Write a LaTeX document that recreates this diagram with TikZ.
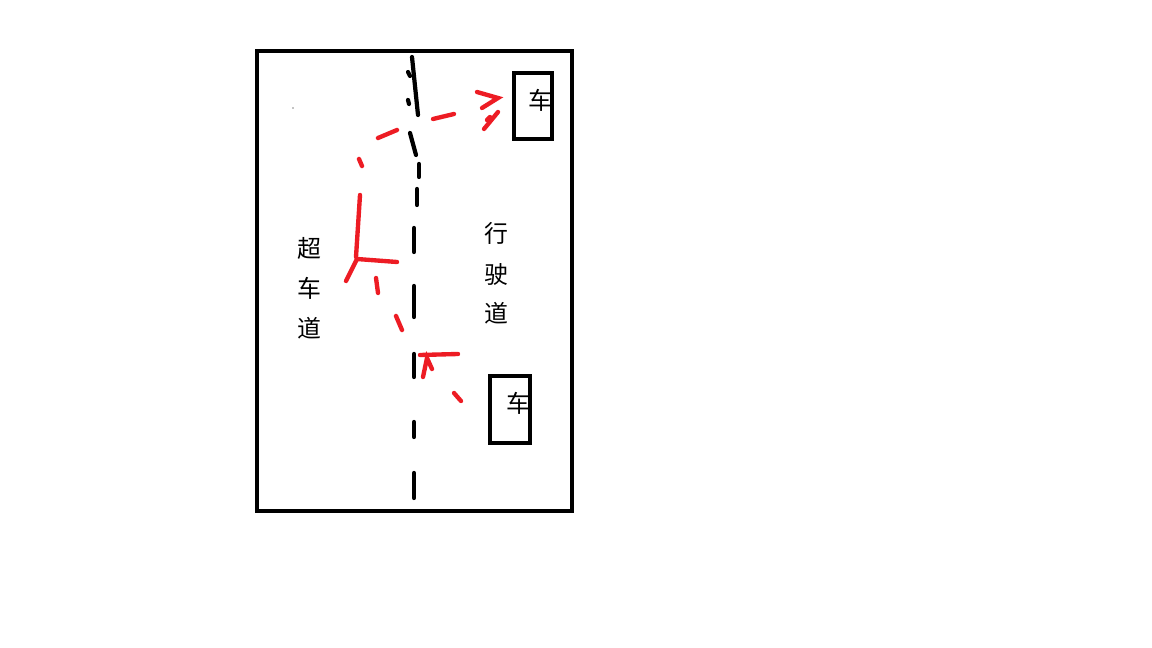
\documentclass[tikz,border=0pt]{standalone}
\usepackage{fontspec}
\newfontfamily\cjk{Noto Sans CJK SC}
\usepackage{tikz}
\definecolor{paintred}{HTML}{ED1C24}

\begin{document}
\begin{tikzpicture}[x=0.025cm,y=-0.025cm,
 every node/.style={font=\cjk\fontsize{17}{17}\selectfont,inner sep=0pt},
 frame/.style={draw,line width=3.1pt},
 lane/.style={draw,line width=3pt,line cap=round},
 redline/.style={draw=paintred,line width=3.1pt,line cap=round}]
 \useasboundingbox (0,0) rectangle (1152,648);
 % road
 \draw[frame] (257,51) rectangle (572,511);
 \draw[lane] (412,57)--(418,115);
 \draw[lane] (408,72)--(410,76);
 \draw[lane] (408,100)--(409,104);
 \draw[lane] (410,133)--(416,155);
 \draw[lane] (419,164)--(419,177);
 \draw[lane] (417,189)--(417,205);
 \foreach \ya/\yb in {228/252,286/317,354/377,422/437,473/498}
  \draw[lane] (414,\ya)--(414,\yb);
 \fill (293,108) circle (0.6);
 % cars
 \draw[frame] (514,73) rectangle (552,139);
 \draw[frame] (490,376) rectangle (530,443);
 \node (car1) at (540,100) {车};
 \node (car2) at (518,403) {车};
 % overtaking path
 \draw[redline] (359,159)--(362,166);
 \draw[redline] (360,195)--(356,257);
 \draw[redline] (357,259)--(397,262);
 \draw[redline] (357,259)--(346,281);
 \draw[redline] (376,278)--(378,293);
 \draw[redline] (396,316)--(402,330);
 \draw[redline] (420,355)--(458,354);
 \draw[redline] (423,377)--(427,358)--(432,369);
 \draw[redline] (454,393)--(461,401);
 \draw[redline] (378,138)--(397,130);
 \draw[redline] (433,119)--(454,114);
 \draw[redline] (477,92)--(498,98)--(482,108);
 \draw[redline] (498,112)--(484,129);
 \draw[redline] (487,120)--(490,117);
 % lane names
 \node (chao) at (309,248) {超};
 \node (che) at (309,288) {车};
 \node (dao) at (309,328) {道};
 \node (xing) at (496,233) {行};
 \node (shi) at (496,274) {驶};
 \node (dao2) at (496,313) {道};
\end{tikzpicture}
\end{document}
